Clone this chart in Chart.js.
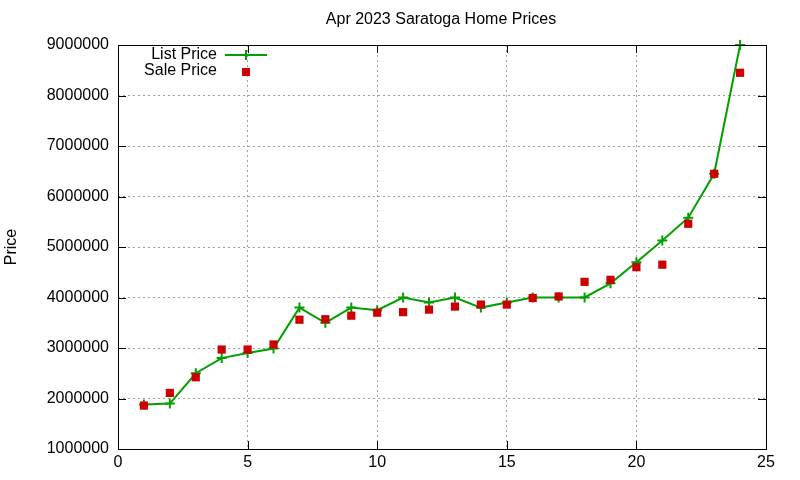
<!DOCTYPE html>
<html>
<head>
<meta charset="utf-8">
<script src="https://cdn.jsdelivr.net/npm/chart.js@4"></script>
<style>
  html, body { margin: 0; padding: 0; background: #fff; }
  #wrap { width: 800px; height: 480px; }
</style>
</head>
<body>
<div id="wrap"><canvas id="chart" width="800" height="480"></canvas></div>
<script>
const TITLE = "Apr 2023 Saratoga Home Prices";
const Y_TITLE = "Price";
const homeIndex = [1, 2, 3, 4, 5, 6, 7, 8, 9, 10, 11, 12, 13, 14, 15, 16, 17, 18, 19, 20, 21, 22, 23, 24];
const listPrice = [1880000, 1900000, 2500000, 2800000, 2900000, 2990000, 3800000, 3500000, 3800000, 3750000,
  4000000, 3900000, 4000000, 3800000, 3900000, 4000000, 4000000, 4000000, 4280000, 4700000,
  5130000, 5580000, 6450000, 9000000];
const salePrice = [1860000, 2110000, 2420000, 2970000, 2970000, 3070000, 3560000, 3570000, 3640000, 3700000,
  3710000, 3760000, 3820000, 3860000, 3860000, 3990000, 4020000, 4310000, 4350000, 4600000,
  4650000, 5460000, 6450000, 8450000];
const xTicks = [0, 5, 10, 15, 20, 25];
const yTicks = [1000000, 2000000, 3000000, 4000000, 5000000, 6000000, 7000000, 8000000, 9000000];

const LIST_COLOR = "#00a000";
const SALE_COLOR = "#cc0000";
const FONT = "Liberation Sans, Arial, sans-serif";
const FONT_SIZE = 16;

// gnuplot-like frame, inward ticks, title and legend
const framePlugin = {
  id: "frame",
  afterDraw(chart) {
    const { ctx, chartArea: a, scales } = chart;
    ctx.save();
    ctx.strokeStyle = "#000";
    ctx.lineWidth = 1;
    ctx.strokeRect(a.left + 0.5, a.top + 0.5, a.right - a.left, a.bottom - a.top);
    ctx.beginPath();
    xTicks.forEach((v) => {
      const px = Math.round(scales.x.getPixelForValue(v)) + 0.5;
      ctx.moveTo(px, a.bottom); ctx.lineTo(px, a.bottom - 8);
      ctx.moveTo(px, a.top); ctx.lineTo(px, a.top + 8);
    });
    yTicks.forEach((v) => {
      const py = Math.round(scales.y.getPixelForValue(v)) + 0.5;
      ctx.moveTo(a.left, py); ctx.lineTo(a.left + 8, py);
      ctx.moveTo(a.right, py); ctx.lineTo(a.right - 8, py);
    });
    ctx.stroke();

    ctx.fillStyle = "#000";
    ctx.font = FONT_SIZE + "px " + FONT;
    ctx.textAlign = "center";
    ctx.textBaseline = "middle";
    ctx.fillText(TITLE, 441, 20);

    ctx.translate(12, (a.top + a.bottom) / 2);
    ctx.rotate(-Math.PI / 2);
    ctx.fillText(Y_TITLE, 0, 0);
    ctx.setTransform(1, 0, 0, 1, 0, 0);

    // legend
    ctx.textAlign = "right";
    ctx.fillText("List Price", 217, 55);
    ctx.fillText("Sale Price", 217, 71);
    ctx.strokeStyle = LIST_COLOR;
    ctx.lineWidth = 2;
    ctx.beginPath();
    ctx.moveTo(225, 55); ctx.lineTo(267, 55);
    ctx.moveTo(246, 50); ctx.lineTo(246, 60);
    ctx.stroke();
    ctx.fillStyle = SALE_COLOR;
    ctx.fillRect(242, 68, 8, 8);
    ctx.restore();
  }
};

const ctx = document.getElementById("chart");
new Chart(ctx, {
  type: "line",
  data: {
    datasets: [
      {
        label: "List Price",
        data: homeIndex.map((x, i) => ({ x, y: listPrice[i] })),
        borderColor: LIST_COLOR,
        backgroundColor: LIST_COLOR,
        borderWidth: 2,
        tension: 0,
        clip: false,
        pointStyle: "cross",
        pointRadius: 5,
        pointBorderWidth: 2,
        order: 2
      },
      {
        label: "Sale Price",
        data: homeIndex.map((x, i) => ({ x, y: salePrice[i] })),
        showLine: false,
        clip: false,
        borderColor: SALE_COLOR,
        backgroundColor: SALE_COLOR,
        pointStyle: "rect",
        pointRadius: 5.8,
        pointBorderWidth: 0,
        order: 1
      }
    ]
  },
  options: {
    responsive: false,
    animation: false,
    events: [],
    layout: { padding: { top: 45, right: 34, bottom: 0, left: 0 } },
    plugins: { legend: { display: false }, title: { display: false }, tooltip: { enabled: false } },
    scales: {
      x: {
        type: "linear",
        min: 0,
        max: 25,
        afterFit: (scale) => { scale.height = 31; },
        afterBuildTicks: (scale) => { scale.ticks = xTicks.map((v) => ({ value: v })); },
        grid: { color: "#a0a0a0", drawTicks: false },
        border: { display: false, dash: [2, 3] },
        ticks: { color: "#000", font: { family: FONT, size: FONT_SIZE }, padding: 4, maxRotation: 0 }
      },
      y: {
        type: "linear",
        min: 1000000,
        max: 9000000,
        afterFit: (scale) => { scale.width = 118; },
        afterBuildTicks: (scale) => { scale.ticks = yTicks.map((v) => ({ value: v })); },
        grid: { color: "#a0a0a0", drawTicks: false },
        border: { display: false, dash: [2, 3] },
        ticks: { color: "#000", font: { family: FONT, size: FONT_SIZE }, padding: 9, callback: (v) => String(v) }
      }
    }
  },
  plugins: [framePlugin]
});
</script>
</body>
</html>
